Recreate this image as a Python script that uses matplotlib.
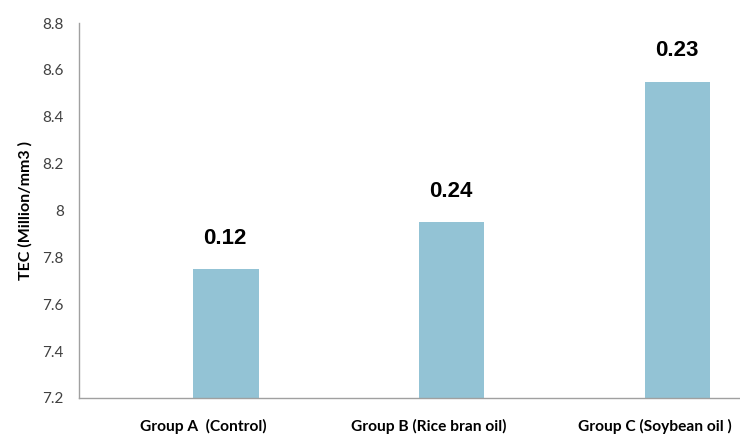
import numpy as np
import matplotlib.pyplot as plt

# TEC means per group, with the value printed above each bar
groups = ["Group A  (Control)", "Group B (Rice bran oil)", "Group C (Soybean oil )"]
tec_mean = [7.75, 7.95, 8.55]
bar_notes = ["0.12", "0.24", "0.23"]
y_ticks = [7.2, 7.4, 7.6, 7.8, 8.0, 8.2, 8.4, 8.6, 8.8]
y_tick_labels = ["7.2", "7.4", "7.6", "7.8", "8", "8.2", "8.4", "8.6", "8.8"]

fig = plt.figure(figsize=(7.4, 4.34), dpi=100)
ax = fig.add_axes([0.107, 0.083, 0.893, 0.864])

x = np.arange(len(groups))
offset = 0.1  # bars sit a bit right of the category centre (excel clustered look)
bars = ax.bar(x + offset, tec_mean, width=0.29, color="#93c3d5")

# value labels above the bars
for bar, note in zip(bars, bar_notes):
    ax.annotate(note, (bar.get_x() + bar.get_width() / 2, bar.get_height()),
                xytext=(-1, 31), textcoords="offset pixels",
                ha="center", va="center", fontsize=16, fontweight="bold",
                family="Liberation Sans", color="black")

ax.set_ylim(7.2, 8.8)
ax.set_xlim(-0.549, 2.376)
ax.set_yticks(y_ticks)
ax.set_yticklabels(y_tick_labels, family="Lato", fontsize=11, color="#404040")
ax.set_xticks(x)
ax.set_xticklabels(groups, family="Lato", fontsize=11.2, fontweight="bold", color="black")
ax.tick_params(axis="y", length=0, pad=11)
ax.tick_params(axis="x", length=0, pad=15)

ax.set_ylabel("TEC (Million/mm3 )", family="Lato", fontsize=11.5, fontweight="bold",
              labelpad=7)

for side in ["top", "right"]:
    ax.spines[side].set_visible(False)
for side in ["left", "bottom"]:
    ax.spines[side].set_color("#a0a0a0")
    ax.spines[side].set_linewidth(1)

fig.savefig("out.png", dpi=100, facecolor="white")
